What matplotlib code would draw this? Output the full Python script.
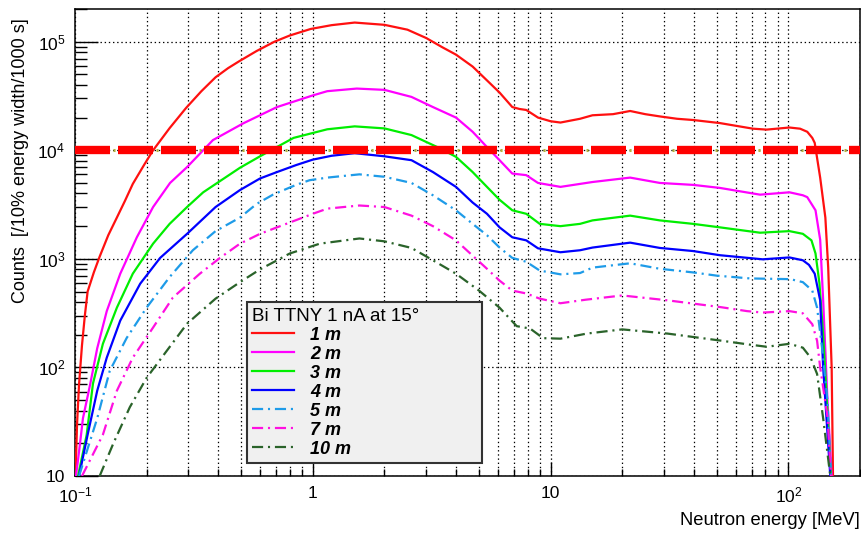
import matplotlib
matplotlib.use("Agg")
import matplotlib.pyplot as plt
from matplotlib.ticker import FixedLocator, FixedFormatter, LogLocator, NullFormatter

plt.rcParams['font.family'] = ['Liberation Sans', 'DejaVu Sans']
plt.rcParams['mathtext.fontset'] = 'custom'
plt.rcParams['mathtext.rm'] = 'Liberation Sans'
plt.rcParams['mathtext.it'] = 'Liberation Sans:italic'
plt.rcParams['mathtext.bf'] = 'Liberation Sans:bold'
plt.rcParams['lines.scale_dashes'] = False

# neutron spectra, counts per 10% energy bin per 1000 s, by flight distance
e_1m = [0.1005, 0.102, 0.104, 0.107, 0.110, 0.113, 0.120, 0.127, 0.138, 0.150, 0.162, 0.175,
        0.195, 0.213, 0.25, 0.293, 0.34, 0.39, 0.44, 0.49, 0.58, 0.69, 0.80, 0.98, 1.2, 1.5,
        2.0, 2.5, 3.0, 3.5, 4.0, 4.7, 5.4, 6.1, 6.9, 7.4, 7.9, 8.85, 10, 11, 13.3, 15, 18.3,
        21.6, 25, 28.8, 34, 39.7, 51.5, 71, 81, 101, 112, 120, 126, 129, 136, 143, 147, 152, 154]
c_1m = [10, 30, 70, 160, 300, 500, 750, 1050, 1650, 2400, 3400, 4900,
        7300, 10000, 16000, 24500, 35000, 47000, 57000, 66000, 82000, 100000, 114000, 131000, 142000, 150000,
        143000, 129000, 108000, 89000, 76000, 59000, 44000, 34000, 25000, 24000, 23500, 20000, 18500, 18000, 19500, 21000, 21500,
        23000, 21500, 20500, 19500, 19000, 17800, 15800, 15500, 16200, 15800, 14800, 13000, 11700, 5600, 2400, 830, 100, 10]

e_2m = [0.101, 0.105, 0.108, 0.116, 0.124, 0.136, 0.155, 0.182, 0.213, 0.251, 0.296, 0.346,
        0.38, 0.51, 0.707, 1.0, 1.15, 1.53, 2.0, 2.6, 3.2, 4.0, 4.7, 5.4, 6.1, 6.9, 7.9, 8.85,
        11, 13.3, 15, 21.6, 28.8, 39.7, 51.5, 76, 101, 115, 120, 130, 136, 140, 146, 152]
c_2m = [10, 20, 34, 71, 150, 330, 730, 1580, 3000, 5000, 7000, 10000,
        12400, 17700, 25000, 32000, 35000, 37000, 36000, 31000, 25000, 20000, 14800, 10700, 8100, 6100, 5900, 5000,
        4600, 4900, 5100, 5600, 5000, 4800, 4500, 3900, 4100, 3850, 3700, 2800, 1500, 415, 49, 10]

e_3m = [0.103, 0.112, 0.119, 0.131, 0.150, 0.175, 0.213, 0.25, 0.296, 0.346, 0.407, 0.494,
        0.6, 0.83, 1.15, 1.5, 2.0, 2.6, 3.4, 4.0, 4.7, 5.4, 6.1, 6.9, 7.9, 9.0, 11, 13.3,
        15, 21.6, 28.8, 39.7, 51.5, 76, 101, 115, 125, 130, 135, 140, 145, 151]
c_3m = [10, 24, 71, 165, 355, 730, 1380, 2100, 3000, 4100, 5200, 6900,
        8800, 13000, 15600, 16600, 15900, 13800, 10500, 8700, 6300, 4600, 3500, 2800, 2600, 2100, 2000, 2100,
        2260, 2500, 2260, 2100, 1950, 1740, 1800, 1700, 1480, 1120, 600, 200, 50, 10]

e_4m = [0.104, 0.113, 0.124, 0.136, 0.155, 0.188, 0.228, 0.296, 0.39, 0.494, 0.6, 0.707,
        0.85, 1.0, 1.2, 1.5, 2.0, 2.6, 3.2, 4.0, 4.7, 5.4, 6.1, 6.9, 7.9, 8.85, 11, 13.3,
        15, 21.6, 28.8, 39.7, 51.5, 78, 101, 115, 122, 129, 136, 140, 150]
c_4m = [10, 24, 61, 123, 270, 590, 1020, 1700, 3000, 4300, 5500, 6300,
        7300, 8200, 8900, 9400, 8800, 8100, 6300, 4600, 3300, 2600, 1950, 1580, 1480, 1250, 1150, 1200,
        1270, 1410, 1260, 1180, 1080, 990, 1030, 970, 880, 730, 415, 100, 10]

e_5m = [0.104, 0.124, 0.14, 0.165, 0.2, 0.25, 0.313, 0.39, 0.494, 0.58, 0.68, 0.85, 0.97,
        1.15, 1.57, 2.0, 2.6, 3.2, 4.0, 4.7, 5.4, 6.1, 6.9, 7.9, 9, 11, 13.3, 15, 21.6,
        28.8, 39.7, 50, 69, 102, 115, 126, 132, 139, 146, 151]
c_5m = [10, 34, 93, 187, 355, 680, 1200, 1800, 2400, 3200, 3900, 4800, 5300,
        5600, 6000, 5700, 5000, 3850, 2800, 2100, 1650, 1270, 1020, 940, 780, 720, 740, 830, 910,
        810, 750, 700, 660, 650, 610, 510, 355, 142, 49, 10]

e_7m = [0.107, 0.131, 0.15, 0.175, 0.213, 0.258, 0.335, 0.407, 0.494, 0.6, 0.707, 1.0,
        1.15, 1.57, 2.0, 2.6, 3.2, 4.0, 4.7, 5.4, 6.1, 6.9, 7.9, 9, 11, 14, 20, 31,
        51.5, 67, 78, 101, 115, 126, 132, 136, 146, 151]
c_7m = [10, 24, 61, 123, 233, 440, 730, 1020, 1380, 1700, 1950, 2600,
        2900, 3100, 3000, 2500, 2000, 1480, 1070, 810, 630, 510, 480, 430, 390, 420, 460, 415,
        360, 330, 320, 330, 315, 250, 176, 100, 35, 10]

e_10m = [0.127, 0.145, 0.17, 0.2, 0.243, 0.296, 0.39, 0.494, 0.6, 0.8, 1.07, 1.57,
         2.0, 2.6, 3.2, 4.0, 5.0, 6.1, 7.2, 8.2, 9.3, 11, 14.2, 20, 31, 51.5, 69, 81,
         101, 115, 124, 132, 140, 150]
c_10m = [10, 20, 43, 80, 142, 253, 430, 610, 800, 1120, 1380, 1540,
         1450, 1260, 970, 730, 510, 355, 240, 228, 186, 184, 205, 224, 205, 177, 162, 155,
         165, 152, 123, 87, 34, 10]

labels = ['1 m', '2 m', '3 m', '4 m', '5 m', '7 m', '10 m']
colors = ['#ff1010', '#ff00ff', '#00ee00', '#0000ff', '#1e9be8', '#ff10e0', '#2a632a']
dashdot = (0, (8, 3.5, 1.5, 3.5))
styles = ['-', '-', '-', '-', dashdot, dashdot, dashdot]
energies = [e_1m, e_2m, e_3m, e_4m, e_5m, e_7m, e_10m]
counts = [c_1m, c_2m, c_3m, c_4m, c_5m, c_7m, c_10m]

limit = 1e4

x_ticks = [0.1, 1, 10, 100]
x_tick_labels = [r'$10^{-1}$', '1', '10', r'$10^{2}$']
y_ticks = [10, 100, 1e3, 1e4, 1e5]
y_tick_labels = ['10', r'$10^{2}$', r'$10^{3}$', r'$10^{4}$', r'$10^{5}$']

fig = plt.figure(figsize=(8.62, 5.34), dpi=100)
ax = fig.add_axes([75 / 862, 58 / 534, 785 / 862, 467 / 534])

handles = []
for e, c, lab, col, ls in zip(energies, counts, labels, colors, styles):
    h, = ax.plot(e, c, color=col, ls=ls, lw=1.6, label=lab, zorder=3)
    handles.append(h)

# rate limit: thick red dashes with a small dot in each gap
ax.axhline(limit, color='#b4b23c', lw=2.2, ls=(3.6, (1.5, 29.46)), zorder=4)
ax.axhline(limit, color='#ff0000', lw=6, ls=(0, (25.2, 5.76)), zorder=5)

ax.set_xscale('log')
ax.set_yscale('log')
ax.set_xlim(0.1, 200)
ax.set_ylim(10, 2e5)

ax.xaxis.set_major_locator(FixedLocator(x_ticks))
ax.xaxis.set_major_formatter(FixedFormatter(x_tick_labels))
ax.xaxis.set_minor_locator(LogLocator(base=10, subs=range(2, 10), numticks=20))
ax.xaxis.set_minor_formatter(NullFormatter())
ax.yaxis.set_major_locator(FixedLocator(y_ticks))
ax.yaxis.set_major_formatter(FixedFormatter(y_tick_labels))
ax.yaxis.set_minor_locator(LogLocator(base=10, subs=range(2, 10), numticks=20))
ax.yaxis.set_minor_formatter(NullFormatter())

ax.tick_params(axis='both', which='both', direction='in', labelsize=12.5, width=1)
ax.tick_params(axis='y', which='major', length=16.5, pad=7)
ax.tick_params(axis='y', which='minor', length=8.5)
ax.tick_params(axis='x', which='major', length=10, pad=7)
ax.tick_params(axis='x', which='minor', length=5)

ax.grid(which='both', axis='x', color='k', ls=(0, (1, 2)), lw=0.9)
ax.grid(which='major', axis='y', color='k', ls=(0, (1, 2)), lw=0.9)
ax.set_axisbelow(True)

for sp in ax.spines.values():
    sp.set_linewidth(1.1)

ax.set_xlabel('Neutron energy [MeV]', fontsize=13.2, loc='right')
ax.xaxis.set_label_coords(1.0, -0.096)
ax.xaxis.label.set_va('center')
ax.set_ylabel('Counts  [/10% energy width/1000 s]', fontsize=13, loc='top')
ax.yaxis.set_label_coords(-0.07, 0.981)
ax.yaxis.label.set_va('center')

leg = ax.legend(handles=handles, title='Bi TTNY 1 nA at 15°', alignment='left',
                loc='lower left', bbox_to_anchor=(0.219, 0.028, 0.299, 0.338), mode='expand',
                borderaxespad=0, fancybox=False, framealpha=1, facecolor='#f0f0f0',
                edgecolor='#333333', prop={'size': 13, 'weight': 'bold', 'style': 'italic'},
                title_fontproperties={'size': 13.5}, handlelength=2.3, handletextpad=0.9,
                labelspacing=0.11, borderpad=0.3)
leg.get_frame().set_linewidth(1.5)
leg.set_zorder(6)

fig.savefig('out.png', dpi=100)
